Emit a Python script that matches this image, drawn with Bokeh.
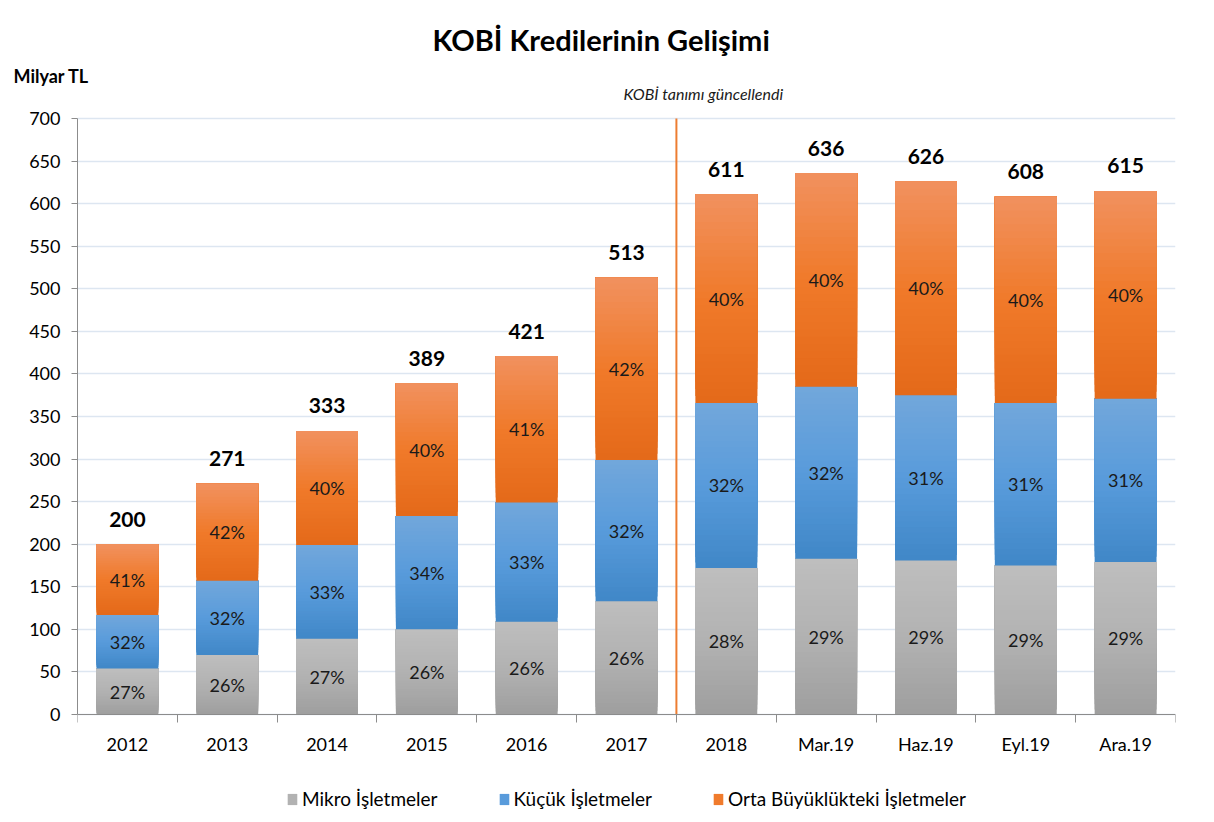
from bokeh.plotting import figure
from bokeh.models import (ColumnDataSource, FixedTicker, Label, Legend, LegendItem, Range1d, Title)
from bokeh.embed import file_html
from bokeh.resources import INLINE
from bokeh.core.properties import value

# ---------------- data ----------------
categories = ["2012", "2013", "2014", "2015", "2016", "2017", "2018", "Mar.19", "Haz.19", "Eyl.19", "Ara.19"]
mikro = [54, 70, 89, 100, 109, 133, 172, 183, 181, 175, 179]
kucuk = [63, 87, 110, 133, 140, 166, 194, 202, 194, 191, 192]
orta = [83, 114, 134, 156, 172, 214, 245, 251, 251, 242, 244]
totals = ["200", "271", "333", "389", "421", "513", "611", "636", "626", "608", "615"]
mikro_pct = ["27%", "26%", "27%", "26%", "26%", "26%", "28%", "29%", "29%", "29%", "29%"]
kucuk_pct = ["32%", "32%", "33%", "34%", "33%", "32%", "32%", "32%", "31%", "31%", "31%"]
orta_pct = ["41%", "42%", "40%", "40%", "41%", "42%", "40%", "40%", "40%", "40%", "40%"]
series_names = ["Mikro İşletmeler", "Küçük İşletmeler", "Orta Büyüklükteki İşletmeler"]
y_ticks = list(range(0, 701, 50))
break_index = 6  # KOBİ definition changed before "2018"

FONT = "Lato"

# gradient stops (bottom, mid, top)
grad = {
    "mikro": [(158, 158, 158), (178, 178, 178), (190, 190, 190)],
    "kucuk": [(64, 135, 199), (88, 155, 219), (114, 167, 219)],
    "orta": [(228, 105, 25), (240, 122, 42), (241, 145, 95)],
}


def interp(stops, f):
    if f <= 0.5:
        a, b, t = stops[0], stops[1], f / 0.5
    else:
        a, b, t = stops[1], stops[2], (f - 0.5) / 0.5
    c = tuple(int(round(a[i] + (b[i] - a[i]) * t)) for i in range(3))
    return "#%02x%02x%02x" % c


xs = [i + 0.5 for i in range(len(categories))]
y_max = max(y_ticks)

# frame reaches below the zero line so the legend can sit inside it
p = figure(frame_width=1098, frame_height=724, output_backend="svg", toolbar_location=None,
           x_range=Range1d(0, len(categories)), y_range=Range1d(-112.75, 737.6),
           min_border_left=77, min_border_right=35, min_border_top=86, min_border_bottom=0)
p.background_fill_color = "white"
p.border_fill_color = "white"
p.outline_line_color = None

# titles outside the frame
p.add_layout(Title(text="Milyar TL", align="left", offset=-64, text_font=FONT,
                   text_font_size="18px", text_font_style="bold", text_color="#000000",
                   standoff=0), "above")
p.add_layout(Title(text="KOBİ Kredilerinin Gelişimi", align="left", offset=355, text_font=FONT,
                   text_font_size="29px", text_font_style="bold", text_color="#000000",
                   standoff=12), "above")

# gridlines
p.xgrid.visible = False
p.ygrid.grid_line_color = "#dde6f1"
p.ygrid.grid_line_width = 1.5

# y axis
p.yaxis.ticker = FixedTicker(ticks=y_ticks)
p.yaxis.bounds = (0, y_max)
p.yaxis.axis_line_color = "#8c8c8c"
p.yaxis.major_tick_line_color = "#8c8c8c"
p.yaxis.major_tick_out = 6
p.yaxis.major_tick_in = 0
p.yaxis.minor_tick_line_color = None
p.yaxis.major_label_text_font = FONT
p.yaxis.major_label_text_font_size = "18px"
p.yaxis.major_label_text_color = "#000000"
p.yaxis.major_label_standoff = 11

# x axis, drawn on the zero line
p.xaxis.fixed_location = 0
p.xaxis.ticker = FixedTicker(ticks=xs, minor_ticks=list(range(len(categories) + 1)))
p.xaxis.major_label_overrides = {x: c for x, c in zip(xs, categories)}
p.xaxis.axis_line_color = "#8c8c8c"
p.xaxis.major_tick_line_color = None
p.xaxis.minor_tick_line_color = "#8c8c8c"
p.xaxis.minor_tick_out = 8
p.xaxis.minor_tick_in = 0
p.xaxis.major_label_text_font = FONT
p.xaxis.major_label_text_font_size = "18px"
p.xaxis.major_label_text_color = "#000000"
p.xaxis.major_label_standoff = 10

# separator line between 2017 and 2018
p.segment(x0=[break_index], y0=[0], x1=[break_index], y1=[y_max], line_color="#ed7d31", line_width=2)

# stacked bars with gradient (overlapping strips, each reaching the segment top)
N = 30
width = 0.62
renderers = []
bottoms = [0] * len(categories)
for key, vals in (("mikro", mikro), ("kucuk", kucuk), ("orta", orta)):
    sx, sb, st, sc = [], [], [], []
    for i, v in enumerate(vals):
        b0 = bottoms[i]
        for k in range(N):
            sx.append(xs[i])
            sb.append(b0 + v * k / N)
            st.append(b0 + v)
            sc.append(interp(grad[key], (k + 0.5) / N))
    src = ColumnDataSource(dict(x=sx, bottom=sb, top=st, color=sc))
    r = p.vbar(x="x", bottom="bottom", top="top", width=width, source=src,
               fill_color="color", line_color=None)
    renderers.append(r)
    bottoms = [bottoms[i] + vals[i] for i in range(len(vals))]

# percentage labels
mid_m = [m / 2 for m in mikro]
mid_k = [m + k / 2 for m, k in zip(mikro, kucuk)]
mid_o = [m + k + o / 2 for m, k, o in zip(mikro, kucuk, orta)]
for mids, labels in ((mid_m, mikro_pct), (mid_k, kucuk_pct), (mid_o, orta_pct)):
    src = ColumnDataSource(dict(x=xs, y=mids, t=labels))
    p.text(x="x", y="y", text="t", source=src, text_align="center", text_baseline="middle",
           text_font=value(FONT), text_font_size="18px", text_color="#1a1a1a")

# total labels
tops = [m + k + o for m, k, o in zip(mikro, kucuk, orta)]
src = ColumnDataSource(dict(x=xs, y=tops, t=totals))
p.text(x="x", y="y", text="t", source=src, text_align="center", text_baseline="alphabetic",
       y_offset=-25, text_font=value(FONT), text_font_size="21px", text_font_style="bold",
       text_color="#000000")

# note above the break
p.add_layout(Label(x=6.27, y=729.4, text="KOBİ tanımı güncellendi", text_align="center",
                   text_baseline="middle", text_font=FONT, text_font_size="16px",
                   text_font_style="italic", text_color="#1a1a1a"))

# legend inside the lower part of the frame; swatch takes a mid-gradient strip colour
swatch_idx = N // 2
items = [LegendItem(label=series_names[j], renderers=[renderers[j]], index=swatch_idx) for j in range(3)]
legend = Legend(items=items, orientation="horizontal", location="bottom_center",
                label_text_font=FONT, label_text_font_size="19px", label_text_color="#000000",
                glyph_width=12, glyph_height=14, spacing=60, label_standoff=4, label_height=20,
                border_line_color=None, background_fill_alpha=0, padding=0, margin=0)
p.add_layout(legend, "center")

open("out.html", "w").write(file_html(p, INLINE))
